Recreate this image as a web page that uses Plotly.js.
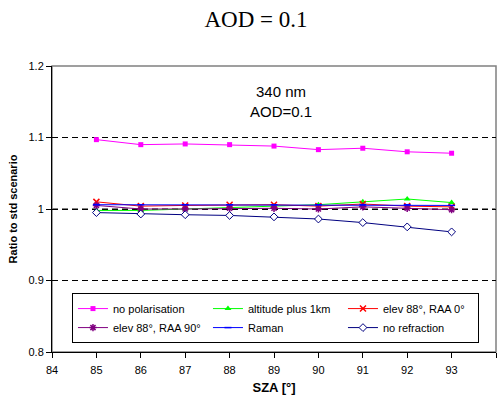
<!DOCTYPE html>
<html>
<head>
<meta charset="utf-8">
<script src="https://cdn.plot.ly/plotly-3.0.1.min.js"></script>
<style>html,body{margin:0;padding:0;background:#fff;}#chart{width:502px;height:396px;}</style>
</head>
<body>
<div id="chart"></div>
<script>
var sza = [85, 86, 87, 88, 89, 90, 91, 92, 93];
var noPolarisation = [1.097, 1.090, 1.091, 1.090, 1.088, 1.083, 1.085, 1.080, 1.078];
var altitudePlus1km = [0.998, 0.998, 1.000, 1.002, 1.004, 1.006, 1.010, 1.014, 1.009];
var elevRaa0 = [1.010, 1.004, 1.005, 1.006, 1.006, 1.004, 1.007, 1.004, 1.003];
var elevRaa90 = [1.005, 1.000, 1.000, 1.001, 1.001, 1.000, 1.003, 1.001, 0.999];
var raman = [1.006, 1.006, 1.006, 1.006, 1.006, 1.006, 1.006, 1.006, 1.005];
var noRefraction = [0.995, 0.993, 0.992, 0.991, 0.989, 0.986, 0.981, 0.975, 0.968];
var seriesNames = ['no polarisation', 'altitude plus 1km', 'elev 88°, RAA 0°', 'elev 88°, RAA 90°', 'Raman', 'no refraction'];
var yTicks = [0.8, 0.9, 1.0, 1.1, 1.2];
var xTicks = [84, 85, 86, 87, 88, 89, 90, 91, 92, 93, 94];

function tr(y, name, color, symbol, size, fill, lw) {
  return {
    x: sza, y: y, name: name, type: 'scatter', mode: 'lines+markers',
    line: {color: color, width: 1},
    marker: {symbol: symbol, size: size, color: fill, line: {color: color, width: lw}}
  };
}
var data = [
  tr(noPolarisation, seriesNames[0], '#FF00FF', 'square', 5, '#FF00FF', 0),
  tr(altitudePlus1km, seriesNames[1], '#00FF00', 'triangle-up', 6, '#00FF00', 0),
  tr(elevRaa0, seriesNames[2], '#FF0000', 'x-thin', 6, '#FF0000', 1.5),
  tr(elevRaa90, seriesNames[3], '#800080', 'asterisk', 6, '#800080', 1.5),
  tr(raman, seriesNames[4], '#0000FF', 'line-ew', 5, '#0000FF', 1.5),
  tr(noRefraction, seriesNames[5], '#000080', 'diamond', 6, '#FFFFFF', 1)
];

var layout = {
  width: 502, height: 396,
  margin: {l: 52, r: 6, t: 66, b: 44},
  paper_bgcolor: '#fff', plot_bgcolor: '#fff',
  font: {family: 'Liberation Sans, Arial, sans-serif', size: 11, color: '#000'},
  title: {text: 'AOD = 0.1', font: {family: 'Liberation Serif, Times New Roman, serif', size: 23, color: '#000'},
          xref: 'container', x: 0.51, xanchor: 'center', yref: 'container', y: 0.952, yanchor: 'middle'},
  xaxis: {
    range: [84, 94], tickvals: xTicks, ticks: 'outside', ticklen: 5, tickcolor: '#000',
    showline: true, linecolor: '#000', linewidth: 1, showgrid: false, zeroline: false,
    tickfont: {size: 11}, ticklabelstandoff: 3,
    title: {text: '<b>SZA [°]</b>', font: {size: 13}, standoff: 7}
  },
  yaxis: {
    range: [0.8, 1.2], tickvals: yTicks, ticktext: yTicks.map(function(v){return String(+v.toFixed(1));}),
    ticks: 'outside', ticklen: 5, tickcolor: '#000',
    showline: true, linecolor: '#000', linewidth: 1, zeroline: false,
    showgrid: true, gridcolor: '#000', gridwidth: 1, griddash: '6px,4px',
    tickfont: {size: 11},
    title: {text: '<b>Ratio to std scenario</b>', font: {size: 11}, standoff: 8}
  },
  shapes: [
    {type: 'rect', xref: 'paper', yref: 'paper', x0: 0, x1: 1, y0: 0, y1: 1, line: {color: '#808080', width: 1.5}, layer: 'between'},
    {type: 'line', xref: 'paper', yref: 'y', x0: 0, x1: 1, y0: 1, y1: 1, line: {color: '#808080', width: 2, dash: '6px,4px'}, layer: 'between'}
  ],
  annotations: [
    {text: '340 nm<br>AOD=0.1', xref: 'paper', yref: 'paper', x: 0.515, y: 0.877, xanchor: 'center', yanchor: 'middle',
     showarrow: false, font: {size: 15, color: '#000'}}
  ],
  showlegend: true,
  legend: {
    orientation: 'h', x: 0.045, xanchor: 'left', y: 0.206, yanchor: 'top',
    bordercolor: '#000', borderwidth: 1, bgcolor: '#fff',
    entrywidth: 90, entrywidthmode: 'pixels', itemwidth: 30,
    font: {size: 11, color: '#000'}, traceorder: 'normal'
  }
};
Plotly.newPlot('chart', data, layout, {displayModeBar: false, staticPlot: true});
</script>
</body>
</html>
